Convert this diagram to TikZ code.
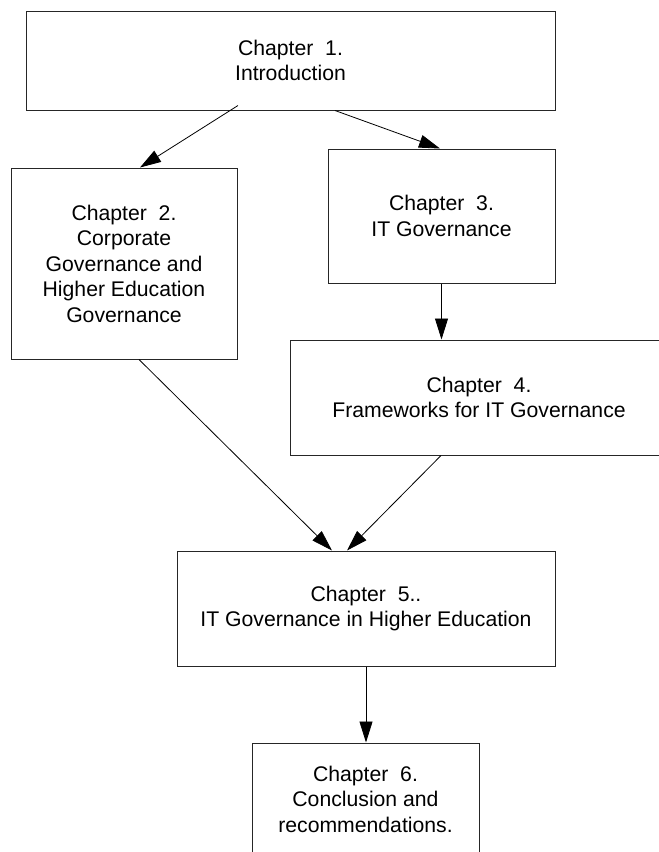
\documentclass[tikz,border=0pt]{standalone}
\usepackage{fontspec}
\setmainfont{Liberation Sans}
\usetikzlibrary{arrows.meta}
\begin{document}
\begin{tikzpicture}[x=1pt,y=-1pt,
  chapbox/.style={draw=black!85, line width=1pt, rectangle, inner sep=0pt,
    align=center, font=\fontsize{21.2}{25.5}\selectfont},
  arr/.style={draw=black, line width=0.8pt,
    -{Triangle[length=21pt,width=13pt]}}]
\clip (0,0) rectangle (659,852);
\fill[white] (0,0) rectangle (659,852);

\node[chapbox, minimum width=529pt, minimum height=99pt] (b1) at (290.5,60.5)
  {Chapter\ \ 1.\\Introduction};
\node[chapbox, minimum width=226pt, minimum height=191pt] (b2) at (124,263.5)
  {Chapter\ \ 2.\\Corporate\\Governance and\\Higher Education\\Governance};
\node[chapbox, minimum width=227pt, minimum height=134pt] (b3) at (441.5,216)
  {Chapter\ \ 3.\\IT Governance};
\node[chapbox, minimum width=378pt, minimum height=115pt] (b4) at (479,397.5)
  {Chapter\ \ 4.\\Frameworks for IT Governance};
\node[chapbox, minimum width=378pt, minimum height=115pt] (b5) at (366,608.5)
  {Chapter\ \ 5..\\IT Governance in Higher Education};
\node[chapbox, minimum width=227pt, minimum height=112pt] (b6) at (365.5,799)
  {Chapter\ \ 6.\\Conclusion and\\recommendations.};

\draw[arr] ([xshift=-52.5pt,yshift=5pt]b1.south) -- ([xshift=16pt]b2.north);
\draw[arr] ([xshift=44.5pt]b1.south) -- ([xshift=-1.5pt]b3.north);
\draw[arr] (b3.south) -- (b3.south |- b4.north);
\draw[arr] ([xshift=15pt]b2.south) -- ([xshift=-34pt]b5.north);
\draw[arr] ([xshift=-38pt]b4.south) -- ([xshift=-19pt]b5.north);
\draw[arr] (b5.south) -- (b5.south |- b6.north);
\end{tikzpicture}
\end{document}
